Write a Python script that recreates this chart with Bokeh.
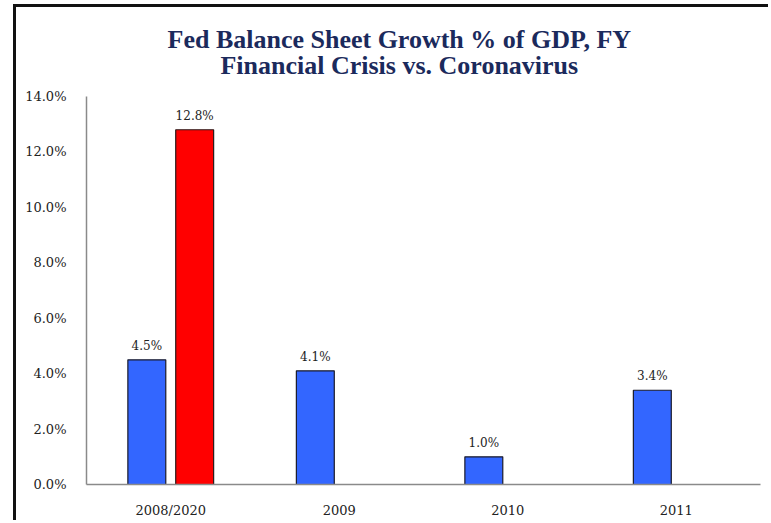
from bokeh.plotting import figure
from bokeh.models import FactorRange, Range1d, PrintfTickFormatter, ColumnDataSource, Title
from bokeh.transform import dodge
from bokeh.core.properties import value
from bokeh.embed import file_html
from bokeh.resources import INLINE

categories = ["2008/2020", "2009", "2010", "2011"]
crisis_values = [4.5, 4.1, 1.0, 3.4]          # Financial Crisis (blue)
covid_categories = ["2008/2020"]
covid_values = [12.8]                          # Coronavirus (red)
y_ticks = [0, 2, 4, 6, 8, 10, 12, 14]

title_text = "Fed Balance Sheet Growth % of GDP, FY\nFinancial Crisis vs. Coronavirus"

blue_src = ColumnDataSource(dict(cat=categories, val=crisis_values,
                                 lbl=[f"{v:.1f}%" for v in crisis_values]))
red_src = ColumnDataSource(dict(cat=covid_categories, val=covid_values,
                                lbl=[f"{v:.1f}%" for v in covid_values]))

p = figure(
    x_range=FactorRange(*categories, range_padding=0.0),
    y_range=Range1d(0, 14),
    width=755, height=516,
    output_backend="svg", toolbar_location=None,
    min_border_left=70, min_border_right=11, min_border_top=88, min_border_bottom=39,
    styles={"margin-left": "13px", "margin-top": "4px",
            "border-left": "3px solid #111111", "border-top": "3px solid #111111"},
)
p.outline_line_color = None
p.xgrid.grid_line_color = None
p.ygrid.grid_line_color = None
p.background_fill_color = "white"
p.border_fill_color = "white"

t = Title(text=title_text, align="left", text_align="center", text_font="Liberation Serif",
          text_font_size="26px", text_font_style="bold", text_color="#1B2A5C",
          text_line_height=0.9, standoff=32, offset=81)
p.add_layout(t, "above")

bw = 0.225
off = 0.142
p.vbar(x=dodge("cat", -off, range=p.x_range), top="val", width=bw, bottom=0,
       source=blue_src, fill_color="#3366FF", line_color="#1a1a2a", line_width=1.2)
p.vbar(x=dodge("cat", off, range=p.x_range), top="val", width=bw, bottom=0,
       source=red_src, fill_color="#FF0000", line_color="#2a1a1a", line_width=1.2)

for src, o in ((blue_src, -off), (red_src, off)):
    p.text(x=dodge("cat", o, range=p.x_range), y="val", text="lbl", source=src,
           text_align="center", text_baseline="bottom", y_offset=-7,
           text_font=value("DejaVu Serif"), text_font_size="12px", text_color="#222222")

p.yaxis.ticker = y_ticks
p.yaxis.formatter = PrintfTickFormatter(format="%.1f%%")
for ax in (p.xaxis[0], p.yaxis[0]):
    ax.axis_line_color = "#8a8a8a"
    ax.axis_line_width = 1.5
    ax.major_tick_line_color = None
    ax.minor_tick_line_color = None
    ax.major_label_text_font = "DejaVu Serif"
    ax.major_label_text_font_size = "13px"
    ax.major_label_text_color = "#222222"
p.yaxis.major_label_standoff = 14
p.xaxis.major_label_standoff = 12

open("out.html", "w").write(file_html(p, INLINE))
